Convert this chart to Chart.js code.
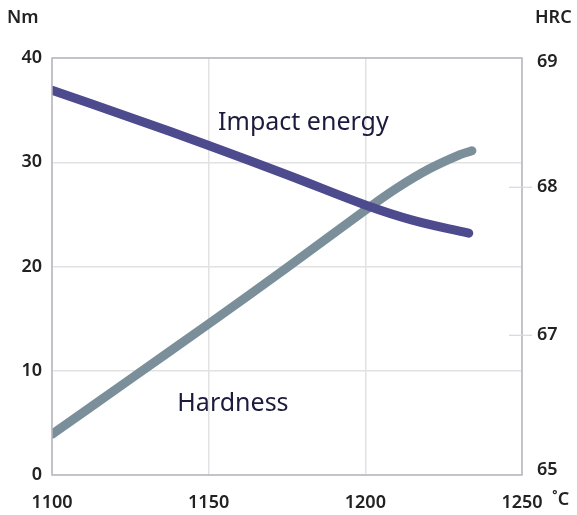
<!DOCTYPE html>
<html>
<head>
<meta charset="utf-8">
<script src="https://cdn.jsdelivr.net/npm/chart.js@4.4.1/dist/chart.umd.min.js"></script>
<style>
  html, body { margin: 0; padding: 0; background: #fff; }
  .chart-container { width: 577px; height: 515px; position: relative; }
</style>
</head>
<body>
<div class="chart-container">
  <canvas id="chart"></canvas>
</div>
<script>
// Temperatures in °C
const temperatures = [1100, 1125, 1150, 1175, 1200, 1215, 1233]
// Impact energy in Nm (left axis)
const impactEnergy = [36.9, 34.3, 31.6, 28.8, 25.9, 24.45, 23.2]
// Hardness in HRC (right axis)
const hardnessTemps = [1100, 1125, 1150, 1175, 1200, 1210, 1220, 1230, 1234]
const hardness = [65.39, 65.92, 66.45, 66.99, 67.54, 67.75, 67.93, 68.07, 68.11]

const xTicks = [1100, 1150, 1200, 1250]
const leftTicks = [0, 10, 20, 30, 40]
const rightTickLabels = ["65", "67", "68", "69"]

const textColor = "#222222"
const labelColor = "#1c1b3d"
const borderColor = "#b7b7bf"
const gridColor = "#e2e2e2"
const tickFont = { family: "Noto Sans", size: 18, weight: "600" }

// right axis labels are not evenly spaced in the source drawing
const rightTickValues = [65.05, 66.34, 67.76, 68.96]

const extras = {
  id: "extras",
  afterDraw(chart) {
    const { ctx, chartArea, scales } = chart
    ctx.save()
    // frame round the plot
    ctx.strokeStyle = borderColor
    ctx.lineWidth = 1.5
    ctx.strokeRect(chartArea.left, chartArea.top, chartArea.right - chartArea.left, chartArea.bottom - chartArea.top)

    // right axis tick marks reaching into the plot
    ctx.strokeStyle = "#d6d6dc"
    ctx.lineWidth = 1.2
    rightTickValues.slice(1, 3).forEach((v) => {
      const y = scales.y2.getPixelForValue(v)
      ctx.beginPath()
      ctx.moveTo(chartArea.right - 13, y)
      ctx.lineTo(chartArea.right + 10, y)
      ctx.stroke()
    })

    // axis titles
    ctx.fillStyle = textColor
    ctx.font = "600 18px 'Noto Sans'"
    ctx.textBaseline = "middle"
    ctx.textAlign = "left"
    ctx.fillText("Nm", 7, 18)
    ctx.fillText("HRC", 535, 18)
    ctx.fillText("˚C", 552, 500)

    // series labels
    ctx.fillStyle = labelColor
    ctx.font = "400 25px 'Noto Sans'"
    ctx.fillText("Impact energy", scales.x.getPixelForValue(1153), scales.y.getPixelForValue(33.8))
    ctx.fillText("Hardness", scales.x.getPixelForValue(1140), scales.y.getPixelForValue(6.8))
    ctx.restore()
  },
}

const ctx = document.getElementById("chart").getContext("2d")

new Chart(ctx, {
  type: "line",
  data: {
    datasets: [
      {
        label: "Impact energy",
        data: temperatures.map((t, i) => ({ x: t, y: impactEnergy[i] })),
        borderColor: "#4d4a8e",
        borderWidth: 9,
        borderCapStyle: "round",
        tension: 0.4,
        pointRadius: 0,
        yAxisID: "y",
      },
      {
        label: "Hardness",
        data: hardnessTemps.map((t, i) => ({ x: t, y: hardness[i] })),
        borderColor: "#7a8f99",
        borderWidth: 9,
        borderCapStyle: "round",
        tension: 0.4,
        pointRadius: 0,
        yAxisID: "y2",
      },
    ],
  },
  options: {
    responsive: true,
    maintainAspectRatio: false,
    animation: false,
    layout: { padding: { top: 58, left: 0, right: 0, bottom: 0 } },
    plugins: {
      legend: { display: false },
      tooltip: { enabled: false },
    },
    scales: {
      x: {
        type: "linear",
        min: 1100,
        max: 1250,
        afterBuildTicks: (s) => { s.ticks = xTicks.map((v) => ({ value: v })) },
        afterFit: (s) => { s.height = 40 },
        border: { display: false },
        grid: { color: gridColor, lineWidth: 1.5, drawTicks: false },
        ticks: { color: textColor, font: tickFont, padding: 17, maxRotation: 0, callback: (v) => String(v) },
      },
      y: {
        type: "linear",
        position: "left",
        min: 0,
        max: 40,
        afterBuildTicks: (s) => { s.ticks = leftTicks.map((v) => ({ value: v })) },
        afterFit: (s) => { s.width = 52 },
        border: { display: false },
        grid: { color: gridColor, lineWidth: 1.5, drawTicks: false },
        ticks: { color: textColor, font: tickFont, padding: 10 },
      },
      y2: {
        type: "linear",
        position: "right",
        min: 65,
        max: 69,
        afterBuildTicks: (s) => { s.ticks = rightTickValues.map((v) => ({ value: v })) },
        afterFit: (s) => { s.width = 55 },
        border: { display: false },
        grid: { drawOnChartArea: false, drawTicks: false },
        ticks: {
          color: textColor,
          font: tickFont,
          padding: 15,
          callback: (v, i) => rightTickLabels[i],
        },
      },
    },
  },
  plugins: [extras],
})
</script>
</body>
</html>
